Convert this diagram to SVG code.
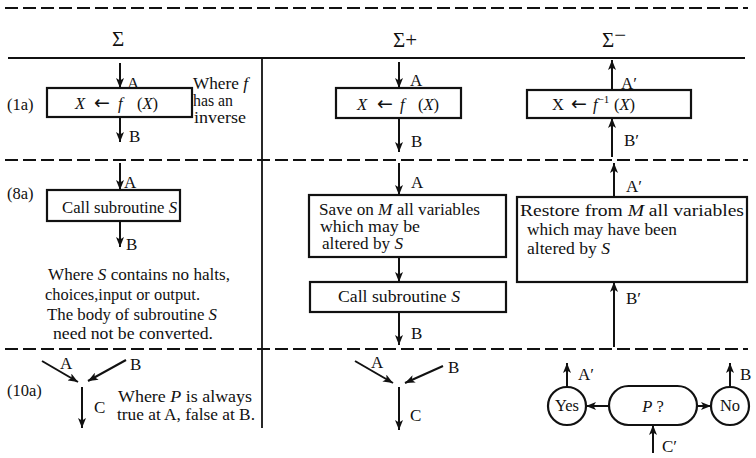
<svg xmlns="http://www.w3.org/2000/svg" width="756" height="458" viewBox="0 0 756 458">
<defs>
<marker id="ah" markerUnits="userSpaceOnUse" markerWidth="10" markerHeight="8" viewBox="0 0 10 8" refX="10" refY="4" orient="auto">
<path d="M0,0 L10,4 L0,8 L2.5,4 z" fill="#111"/>
</marker>
<style>
text{font-family:"Liberation Serif","Times New Roman",serif;fill:#111;font-size:16.5px}
.h{font-size:21px;text-anchor:middle}
.m{text-anchor:middle}
.n{font-size:16px}
.i{font-style:italic}
.ar{font-family:"DejaVu Sans",sans-serif;font-size:19px}
.box{fill:#fff;stroke:#111;stroke-width:2.2}
.rule{stroke:#111;stroke-width:1.8;fill:none}
.dash{stroke:#111;stroke-width:2.2;fill:none;stroke-dasharray:13 5}
.c{stroke:#111;stroke-width:2;fill:none;marker-end:url(#ah)}
.lab{font-size:17px}
</style>
</defs>
<rect width="756" height="458" fill="#fff"/>

<g id="frame">
<line class="dash" x1="5" y1="8" x2="748" y2="8"/>
<line class="rule" x1="8" y1="58" x2="745" y2="58"/>
<line class="rule" x1="262" y1="58" x2="262" y2="428"/>
<line class="dash" x1="5" y1="160" x2="748" y2="160"/>
<line class="dash" x1="5" y1="349" x2="748" y2="349"/>
<text class="h" x="118" y="46">Σ</text>
<text class="h" x="405" y="47">Σ+</text>
<text class="h" x="614" y="47">Σ<tspan dy="-5">−</tspan></text>
<text x="7" y="110" font-size="17">(1a)</text>
<text x="7" y="199" font-size="17">(8a)</text>
<text x="7" y="396" font-size="17">(10a)</text>
</g>

<g id="note-1a">
<text class="n" x="193" y="89" textLength="55" lengthAdjust="spacingAndGlyphs">Where <tspan class="i">f</tspan></text>
<text class="n" x="193" y="106" textLength="40" lengthAdjust="spacingAndGlyphs">has an</text>
<text class="n" x="194" y="123" textLength="52" lengthAdjust="spacingAndGlyphs">inverse</text>
</g>

<g id="box-1a-sigma">
<rect class="box" x="47" y="88" width="145" height="29"/>
<text y="109"><tspan class="i" x="75">X</tspan><tspan class="ar" x="94">←</tspan><tspan class="i" x="118">f</tspan><tspan x="137">(</tspan><tspan class="i">X</tspan>)</text>
</g>
<g id="box-1a-plus">
<rect class="box" x="336" y="88" width="125" height="30"/>
<text y="110"><tspan class="i" x="357">X</tspan><tspan class="ar" x="377">←</tspan><tspan class="i" x="400">f</tspan><tspan x="418">(</tspan><tspan class="i">X</tspan>)</text>
</g>
<g id="box-1a-minus">
<rect class="box" x="527" y="90" width="164" height="28"/>
<text y="110"><tspan x="552">X</tspan><tspan class="ar" x="571">←</tspan><tspan class="i" x="593">f</tspan><tspan font-size="11" dy="-7">−1</tspan><tspan x="614" dy="7">(</tspan><tspan class="i">X</tspan>)</text>
</g>

<g id="box-8a-sigma">
<rect class="box" x="47" y="190" width="133" height="31"/>
<text x="62" y="213" textLength="115" lengthAdjust="spacingAndGlyphs">Call subroutine <tspan class="i">S</tspan></text>
</g>
<g id="note-8a">
<text class="n" x="48" y="280" textLength="182" lengthAdjust="spacingAndGlyphs">Where <tspan class="i">S</tspan> contains no halts,</text>
<text class="n" x="45" y="300" textLength="155" lengthAdjust="spacingAndGlyphs">choices,input or output.</text>
<text class="n" x="47" y="320" textLength="170" lengthAdjust="spacingAndGlyphs">The body of subroutine <tspan class="i">S</tspan></text>
<text class="n" x="53" y="339" textLength="160" lengthAdjust="spacingAndGlyphs">need not be converted.</text>
</g>
<g id="box-8a-save">
<rect class="box" x="309" y="195" width="197" height="62"/>
<text class="n" x="319" y="215" textLength="161" lengthAdjust="spacingAndGlyphs">Save on <tspan class="i">M</tspan> all variables</text>
<text class="n" x="320" y="232" textLength="100" lengthAdjust="spacingAndGlyphs">which may be</text>
<text class="n" x="322" y="249" textLength="81" lengthAdjust="spacingAndGlyphs">altered by <tspan class="i">S</tspan></text>
</g>
<g id="box-8a-call">
<rect class="box" x="310" y="282" width="196" height="30"/>
<text x="338" y="302" textLength="122" lengthAdjust="spacingAndGlyphs">Call subroutine <tspan class="i">S</tspan></text>
</g>
<g id="box-8a-restore">
<rect class="box" x="517" y="197" width="230" height="85"/>
<text class="n" x="520" y="216" textLength="224" lengthAdjust="spacingAndGlyphs">Restore from <tspan class="i">M</tspan> all variables</text>
<text class="n" x="527" y="235" textLength="150" lengthAdjust="spacingAndGlyphs">which may have been</text>
<text class="n" x="527" y="254" textLength="83" lengthAdjust="spacingAndGlyphs">altered by <tspan class="i">S</tspan></text>
</g>

<g id="note-10a">
<text class="n" x="118" y="402" textLength="134" lengthAdjust="spacingAndGlyphs">Where <tspan class="i">P</tspan> is always</text>
<text class="n" x="117" y="420" textLength="138" lengthAdjust="spacingAndGlyphs">true at A, false at B.</text>
</g>
<g id="node-yes">
<circle class="box" cx="567" cy="406" r="19"/>
<text class="m" x="567" y="411" font-size="16">Yes</text>
</g>
<g id="node-p">
<rect class="box" x="609" y="386" width="88" height="39" rx="19.5"/>
<text class="m" x="653" y="412"><tspan class="i">P</tspan> ?</text>
</g>
<g id="node-no">
<circle class="box" cx="730" cy="406" r="19"/>
<text class="m" x="730" y="411" font-size="16">No</text>
</g>

<g id="connectors">
<line class="c" x1="120" y1="63" x2="120" y2="88"/>
<line class="c" x1="120" y1="117" x2="120" y2="142"/>
<line class="c" x1="399" y1="62" x2="399" y2="88"/>
<line class="c" x1="399" y1="118" x2="399" y2="152"/>
<line class="c" x1="612" y1="90" x2="612" y2="60"/>
<line class="c" x1="612" y1="157" x2="612" y2="118"/>

<line class="c" x1="120" y1="163" x2="120" y2="190"/>
<line class="c" x1="120" y1="221" x2="120" y2="247"/>
<line class="c" x1="399" y1="163" x2="399" y2="195"/>
<line class="c" x1="399" y1="257" x2="399" y2="282"/>
<line class="c" x1="399" y1="312" x2="399" y2="345"/>
<line class="c" x1="614" y1="197" x2="614" y2="163"/>
<line class="c" x1="614" y1="347" x2="614" y2="282"/>

<line class="c" x1="42" y1="361" x2="78" y2="382"/>
<line class="c" x1="126" y1="360" x2="88" y2="381"/>
<line class="c" x1="82" y1="387" x2="82" y2="428"/>
<line class="c" x1="355" y1="361" x2="393" y2="383"/>
<line class="c" x1="443" y1="366" x2="405" y2="383"/>
<line class="c" x1="399" y1="387" x2="399" y2="430"/>
<line class="c" x1="567" y1="387" x2="567" y2="363"/>
<line class="c" x1="609" y1="406" x2="586" y2="406"/>
<line class="c" x1="697" y1="406" x2="711" y2="406"/>
<line class="c" x1="730" y1="387" x2="730" y2="363"/>
<line class="c" x1="653" y1="453" x2="653" y2="425"/>
</g>

<g id="connector-labels">
<text class="lab" x="127" y="89">A</text>
<text class="lab" x="129" y="142">B</text>
<text class="lab" x="410" y="86">A</text>
<text class="lab" x="411" y="147">B</text>
<text class="lab" x="621" y="89">A′</text>
<text class="lab" x="624" y="146">B′</text>
<text class="lab" x="124" y="188">A</text>
<text class="lab" x="126" y="250">B</text>
<text class="lab" x="411" y="188">A</text>
<text class="lab" x="411" y="339">B</text>
<text class="lab" x="626" y="192">A′</text>
<text class="lab" x="626" y="304">B′</text>
<text class="lab" x="60" y="369">A</text>
<text class="lab" x="130" y="370">B</text>
<text class="lab" x="94" y="413">C</text>
<text class="lab" x="371" y="368">A</text>
<text class="lab" x="448" y="373">B</text>
<text class="lab" x="410" y="421">C</text>
<text class="lab" x="578" y="380">A′</text>
<text class="lab" x="740" y="380">B</text>
<text class="lab" x="662" y="452">C′</text>
</g>
</svg>
